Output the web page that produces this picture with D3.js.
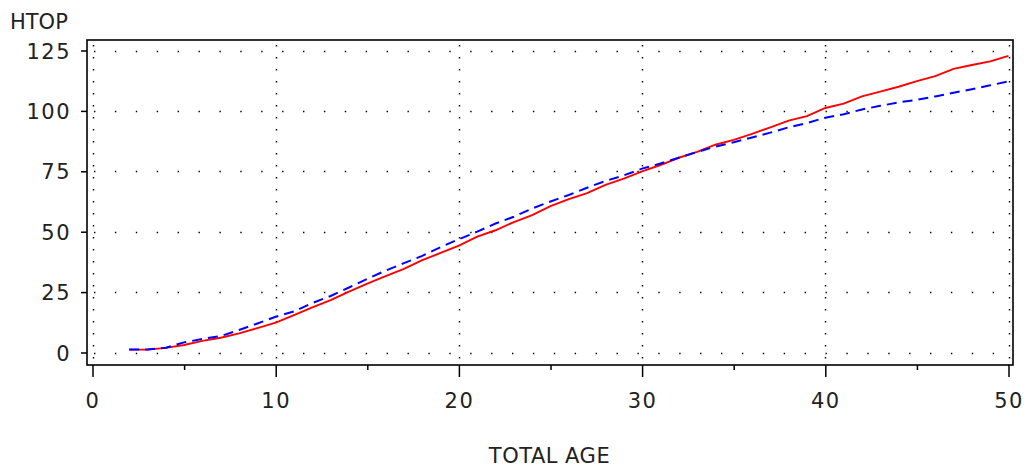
<!DOCTYPE html>
<html>
<head>
<meta charset="utf-8">
<script src="https://cdn.jsdelivr.net/npm/d3@7"></script>
<style>
  html, body { margin: 0; padding: 0; background: #fff; }
  svg { display: block; }
  text { font-family: "DejaVu Sans", sans-serif; fill: #222; }
</style>
</head>
<body>
<svg id="chart" width="1029" height="473"></svg>
<script>
// ---- data ----
const ages = [2,3,4,5,6,7,8,9,10,11,12,13,14,15,16,17,18,19,20,21,22,23,24,25,26,
              27,28,29,30,31,32,33,34,35,36,37,38,39,40,41,42,43,44,45,46,47,48,49,50];
const htopRed = [1.2,1.2,1.9,3.1,4.8,6.1,7.9,10.1,12.4,15.5,18.7,21.7,25.2,28.5,31.6,34.6,38.2,41.2,44.2,48.0,50.6,54.0,56.9,60.6,63.5,
                 66.0,69.4,72.0,75.0,77.6,80.6,83.0,86.0,88.0,90.5,93.2,96.0,97.8,101.2,103.0,106.0,108.0,110.0,112.3,114.4,117.4,119.0,120.5,122.8];
const htopBlue = [1.2,1.2,2.0,4.2,5.6,6.8,9.3,12.0,14.8,17.0,20.5,23.4,26.9,30.5,33.9,37.0,40.0,43.6,46.9,50.0,53.4,56.2,59.6,62.5,65.2,
                  68.2,71.0,73.3,76.1,78.2,80.6,83.0,85.2,87.0,89.0,91.0,93.2,95.0,97.2,98.6,100.6,102.1,103.5,104.6,106.0,107.5,109.0,110.6,112.2];
const xTicks = [0,10,20,30,40,50];
const xMinorTicks = [5,15,25,35,45];
const yTicks = [0,25,50,75,100,125];
const yLabel = "HTOP";
const xLabel = "TOTAL AGE";

// ---- layout ----
const svg = d3.select("#chart");
const frame = {left: 87, right: 1013, top: 40, bottom: 365};
const x = d3.scaleLinear().domain([0, 50]).range([92.5, 1008.5]);
const y = d3.scaleLinear().domain([0, 125]).range([352.5, 50.5]);

// grid (dotted)
const grid = svg.append("g");
grid.selectAll("line.h").data(yTicks).join("line")
  .attr("x1", frame.left + 7).attr("x2", frame.right)
  .attr("y1", d => Math.round(y(d)) + 0.5).attr("y2", d => Math.round(y(d)) + 0.5)
  .attr("stroke", "#000").attr("stroke-width", 1.4)
  .attr("stroke-dasharray", "1.4,19.5");
grid.selectAll("line.v").data(xTicks).join("line")
  .attr("x1", d => Math.round(x(d)) + 0.5).attr("x2", d => Math.round(x(d)) + 0.5)
  .attr("y1", frame.top + 5).attr("y2", frame.bottom)
  .attr("stroke", "#000").attr("stroke-width", 1.4)
  .attr("stroke-dasharray", "1.4,10.6");

// lines
const line = (vals) => d3.line().x((d, i) => x(ages[i])).y(d => y(d))(vals);
svg.append("path").attr("d", line(htopRed))
  .attr("fill", "none").attr("stroke", "#ff0000").attr("stroke-width", 1.9);
svg.append("path").attr("d", line(htopBlue))
  .attr("fill", "none").attr("stroke", "#0000ff").attr("stroke-width", 2)
  .attr("stroke-dasharray", "10,6");

// frame
svg.append("rect")
  .attr("x", frame.left).attr("y", frame.top)
  .attr("width", frame.right - frame.left).attr("height", frame.bottom - frame.top)
  .attr("fill", "none").attr("stroke", "#000").attr("stroke-width", 1.6);

// y axis
const yAxis = svg.append("g").attr("transform", `translate(${frame.left},0)`)
  .call(d3.axisLeft(y).tickValues(yTicks).tickSize(6).tickPadding(10));
yAxis.select(".domain").remove();
yAxis.selectAll(".tick line").attr("stroke", "#000").attr("stroke-width", 1.5);
yAxis.selectAll(".tick text").attr("font-size", 21).attr("dy", "0.36em")
  .attr("font-family", "DejaVu Sans").attr("fill", "#222").attr("letter-spacing", 1.5);

// x axis
const xAxis = svg.append("g").attr("transform", `translate(0,${frame.bottom})`)
  .call(d3.axisBottom(x).tickValues(xTicks).tickSize(12).tickPadding(16));
xAxis.select(".domain").remove();
xAxis.selectAll(".tick line").attr("stroke", "#000").attr("stroke-width", 1.5);
xAxis.selectAll(".tick text").attr("font-size", 21)
  .attr("font-family", "DejaVu Sans").attr("fill", "#222").attr("letter-spacing", 1.5);
const xMinor = svg.append("g").attr("transform", `translate(0,${frame.bottom})`)
  .call(d3.axisBottom(x).tickValues(xMinorTicks).tickSize(5).tickFormat(""));
xMinor.select(".domain").remove();
xMinor.selectAll(".tick line").attr("stroke", "#000").attr("stroke-width", 1.5);

// labels
svg.append("text").attr("x", 10).attr("y", 29).attr("font-size", 21).text(yLabel);
svg.append("text").attr("x", 549.5).attr("y", 463).attr("font-size", 21)
  .attr("text-anchor", "middle").attr("letter-spacing", 0.5).text(xLabel);
</script>
</body>
</html>
